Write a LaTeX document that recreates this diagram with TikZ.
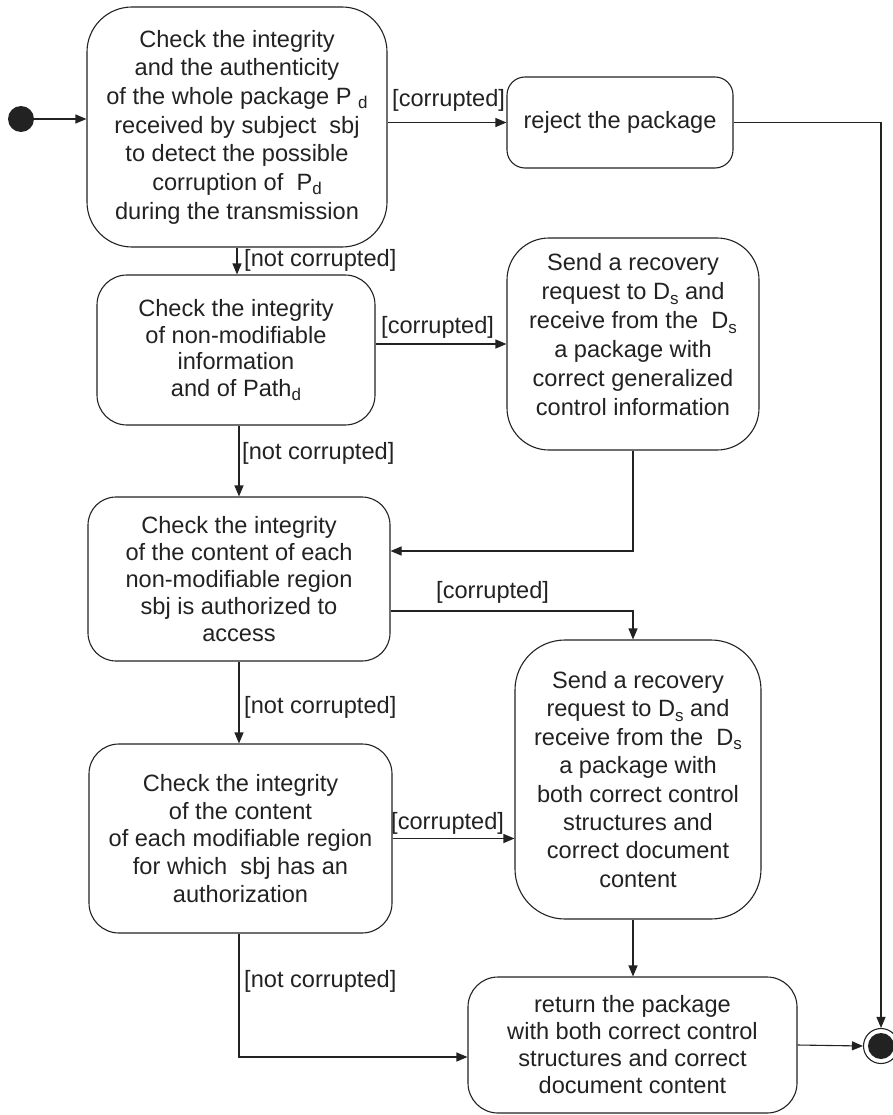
\documentclass[tikz,border=0pt]{standalone}
\usepackage{fontspec}
\setmainfont{Liberation Sans}
\usetikzlibrary{arrows.meta}
\definecolor{ink}{HTML}{222222}
% lowered small index letter used in the state texts
\newcommand\lowsub[1]{\raisebox{-0.35ex}{\fontsize{17}{17}\selectfont #1}}
\newcommand\txtsize[1]{\fontsize{23.6}{#1}\selectfont\lineskiplimit=-20pt}

\begin{document}
\begin{tikzpicture}[x=1pt,y=-1pt,
  every node/.style={text=ink},
  state/.style={draw=ink, line width=1.1pt, align=center, inner sep=0pt},
  guard/.style={font=\txtsize{28}, inner sep=0pt, anchor=base west},
  flow/.style={draw=ink, line width=1.1pt, -{Triangle[length=11pt,width=9pt]}},
  link/.style={draw=ink, line width=1.1pt}]

\useasboundingbox (0,0) rectangle (893,1115);

% columns used by the vertical connectors
\coordinate (leftcol) at (239,0);
\coordinate (rightcol) at (633,0);

% pseudo states
\node[circle, fill=ink, minimum size=26, inner sep=0pt] (start) at (21,119) {};
\node[circle, draw=ink, line width=1.1pt, fill=white, minimum size=35, inner sep=0pt] (final) at (881,1046) {};
\node[circle, fill=ink, minimum size=26, inner sep=0pt] (finaldot) at (final) {};

% activity states
\node[state, minimum width=300, minimum height=240, rounded corners=45, font=\txtsize{28.7}] (b1) at (237,127)
  {Check the integrity\\and the authenticity\\of the whole package P\ \lowsub{d}\\received by subject\ \ sbj\\to detect the possible\\corruption of\ \ P\lowsub{d}\\during the transmission};

\node[state, minimum width=226, minimum height=91, rounded corners=18, font=\txtsize{28}] (rej) at (620,122.5)
  {reject the package};

\node[state, minimum width=278, minimum height=150, rounded corners=30, font=\txtsize{26.5}] (b2) at (236,350)
  {Check the integrity\\of non-modifiable\\information\\and of\ Path\lowsub{d}};

\node[state, minimum width=252, minimum height=212, rounded corners=42] (b3) at (633,344) {};
\node[align=center, inner sep=0pt, font=\txtsize{29}] (b3text) at ([yshift=9pt]b3.center)
  {Send a recovery\\request to D\lowsub{s} and\\receive from the\ \ D\lowsub{s}\\a package with\\correct generalized\\control information};

\node[state, minimum width=302, minimum height=164, rounded corners=28, font=\txtsize{27.2}] (b4) at (239,579)
  {Check the integrity\\of the content of each\\non-modifiable region\\sbj is authorized to\\access};

\node[state, minimum width=246, minimum height=279, rounded corners=50, font=\txtsize{28.4}] (b5) at (638,779.5)
  {Send a recovery\\request to D\lowsub{s} and\\receive from the\ \ D\lowsub{s}\\a package with\\both correct control\\structures and\\correct document\\content};

\node[state, minimum width=303, minimum height=189, rounded corners=30, font=\txtsize{27.6}] (b6) at (240.5,838.5)
  {Check the integrity\\of the content\\of each modifiable region\\for which\ \ sbj has an\\authorization};

\node[state, minimum width=329, minimum height=136, rounded corners=30, font=\txtsize{27}] (b7) at (632.5,1045)
  {return the package\\with both correct control\\structures and correct\\document content};

% transitions
\draw[flow] (start.east) -- (b1.west |- start);
\draw[flow] (b1.east |- rej) -- (rej.west);
\draw[flow] (rej.east) -| (final.north);
\draw[flow] (b1.south) -- (b1.south |- b2.north);
\draw[flow] (b3.west -| b2.east) -- (b3.west);
\draw[flow] (leftcol |- b2.south) -- (leftcol |- b4.north);
\draw[flow] (b3.south) |- ([yshift=28pt]b4.east);
\draw[flow] ([yshift=-32pt]b4.east) -| (rightcol |- b5.north);
\draw[flow] (leftcol |- b4.south) -- (leftcol |- b6.north);
\draw[flow] (b6.east) -- (b6.east -| b5.west);
\draw[flow] (rightcol |- b5.south) -- (rightcol |- b7.north);
\draw[flow] (leftcol |- b6.south) |- ([yshift=-12pt]b7.west);
\draw[flow] (b7.east) -- (final.west);

% guards
\node[guard] (g1) at (392,107) {[corrupted]};
\node[guard] (g2) at (244,266) {[not corrupted]};
\node[guard] (g3) at (381,333) {[corrupted]};
\node[guard] (g4) at (242,459) {[not corrupted]};
\node[guard] (g5) at (436,598) {[corrupted]};
\node[guard] (g6) at (244,713) {[not corrupted]};
\node[guard] (g7) at (391,829) {[corrupted]};
\node[guard] (g8) at (244,987) {[not corrupted]};
\end{tikzpicture}
\end{document}
